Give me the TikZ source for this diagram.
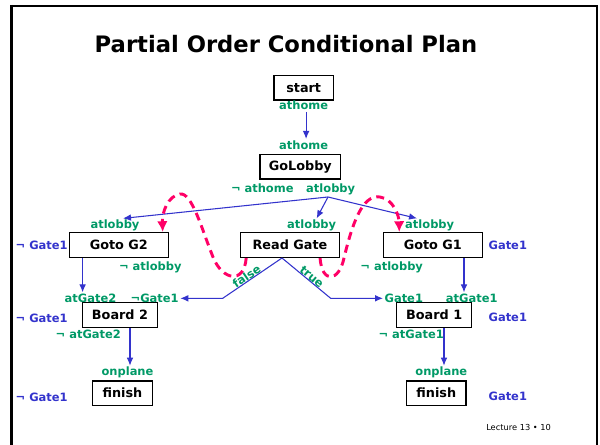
\documentclass[tikz,border=0pt]{standalone}
\usepackage{fontspec}
\setmainfont{DejaVu Sans}
\usetikzlibrary{arrows.meta,positioning}
\definecolor{condgreen}{RGB}{0,153,102}
\definecolor{gateblue}{RGB}{51,51,204}
\definecolor{threadpink}{RGB}{255,0,102}
\tikzset
{
    actbox/.style = {rectangle, draw=black, line width=1.1pt, inner sep=0pt, minimum height=18.5pt, font=\fontsize{9.6}{11}\selectfont\bfseries},
    cond/.style   = {text=condgreen, inner sep=1pt, font=\fontsize{8.6}{10}\selectfont\bfseries},
    gate/.style   = {text=gateblue, inner sep=1pt, font=\fontsize{8.6}{10}\selectfont\bfseries},
    link/.style   = {draw=gateblue, line width=0.8pt, -{Latex[length=6pt,width=5pt]}},
    thread/.style = {draw=threadpink, line width=2.2pt, dash pattern=on 6pt off 4pt, -{Latex[length=8pt,width=8pt]}}
}
\begin{document}
\begin{tikzpicture}[x=0.75pt, y=-0.75pt]
  \useasboundingbox (0,0) rectangle (600,445);

  % frame
  \draw[line width=1.5pt] (10,6) -- (598,6);
  \draw[line width=2.5pt] (11.7,5) -- (11.7,445);
  \draw[line width=1pt] (597,6) -- (597,445);

  \node (title) [anchor=base, font=\fontsize{17}{20}\selectfont\bfseries] at (286,52.3) {Partial Order Conditional Plan};

  % steps
  \node (start)    [actbox, minimum width=44.5pt]  at (303.7,87.8)  {start};
  \node (golobby)  [actbox, minimum width=60.5pt]  at (300.3,166.7) {GoLobby};
  \node (gotog2)   [actbox, minimum width=74.2pt]  at (118.8,245)   {Goto G2};
  \node (readgate) [actbox, minimum width=74pt]    at (290,245)     {Read Gate};
  \node (gotog1)   [actbox, minimum width=74.2pt]  at (432.8,245)   {Goto G1};
  \node (board2)   [actbox, minimum width=56.5pt]  at (120,315)     {Board 2};
  \node (board1)   [actbox, minimum width=56.3pt]  at (434.2,315)   {Board 1};
  \node (finish2)  [actbox, minimum width=44.7pt]  at (122.5,393.2) {finish};
  \node (finish1)  [actbox, minimum width=44.5pt]  at (436.3,393.2) {finish};

  % conditions
  \node (homeout)  [cond, anchor=base] at (303.7,110)   {athome};
  \node (homein)   [cond, anchor=base] at (303.7,149.3) {athome};
  \node (nothome)  [cond, anchor=base] at (262.3,192.7) {¬ athome};
  \node (lobbyout) [cond, anchor=base] at (330.7,193)   {atlobby};
  \node (g2in)     [cond, anchor=base] at (115,228.7)   {atlobby};
  \node (rgin)     [cond, anchor=base] at (311.7,228.7) {atlobby};
  \node (g1in)     [cond, anchor=base] at (429.7,228.7) {atlobby};
  \node (g2out)    [cond, anchor=base] at (150.3,270.4) {¬ atlobby};
  \node (g1out)    [cond, anchor=base] at (391.7,270.4) {¬ atlobby};
  \node (b2gate)   [cond, anchor=base] at (90.5,302.5)  {atGate2};
  \node (b2read)   [cond, anchor=base] at (154.7,302.5) {¬Gate1};
  \node (b1read)   [cond, anchor=base] at (403.8,302.5) {Gate1};
  \node (b1gate)   [cond, anchor=base] at (471.7,302.5) {atGate1};
  \node (b2out)    [cond, anchor=base] at (88.3,339)    {¬ atGate2};
  \node (b1out)    [cond, anchor=base] at (411.2,339)   {¬ atGate1};
  \node (f2in)     [cond, anchor=base] at (127.5,376)   {onplane};
  \node (f1in)     [cond, anchor=base] at (441.3,376)   {onplane};

  % world state
  \node (w2a) [gate, anchor=base]      at (41.7,249.3) {¬ Gate1};
  \node (w2b) [gate, anchor=base]      at (41.7,323)   {¬ Gate1};
  \node (w2c) [gate, anchor=base]      at (41.7,402)   {¬ Gate1};
  \node (w1a) [gate, anchor=base west] at (487,249.3)  {Gate1};
  \node (w1b) [gate, anchor=base west] at (487,322)    {Gate1};
  \node (w1c) [gate, anchor=base west] at (487,400)    {Gate1};

  \node (pageno) [anchor=base west, inner sep=0pt, font=\fontsize{6.2}{7}\selectfont] at (486,430.7) {Lecture 13 • 10};

  \coordinate (split) at (328,197);
  \coordinate (fork)  at (282,258);
  \coordinate (kinkf) at (222.7,0);
  \coordinate (kinkt) at (330.7,0);

  \draw[link] ([xshift=1.8pt]homeout.south) -- ([xshift=1.8pt]homein.north);
  \draw[link] (split) -- ([xshift=6pt]g2in.north);
  \draw[link] (split) -- ([xshift=3.7pt]rgin.north);
  \draw[link] (split) -- ([xshift=-9.5pt]g1in.north);
  \draw[link] ([xshift=10.5pt]gotog2.south west) -- ([xshift=10.5pt]gotog2.south west |- b2gate.north);
  \draw[link] ([xshift=-14.25pt]gotog1.south east) -- ([xshift=-14.25pt]gotog1.south east |- b1gate.north);
  \draw[link] ([xshift=7.5pt]board2.south) -- ([xshift=7.5pt]board2.south |- f2in.north);
  \draw[link] ([xshift=7.35pt]board1.south) -- ([xshift=7.35pt]board1.south |- f1in.north);
  \draw[link] (fork) -- node[cond, sloped, above=-1pt, pos=0.55] {false} (b2read.east -| kinkf) -- (b2read.east);
  \draw[link] (fork) -- node[cond, sloped, above=-1pt, pos=0.55] {true} (b1read.west -| kinkt) -- (b1read.west);

  % threats
  \draw[thread] ([xshift=4.7pt]readgate.south west) .. controls (244,285) and (222,280) .. (213,257)
     .. controls (202,230) and (192,192) .. (180,194) .. controls (168,196) and (162,212) .. ([xshift=-4.7pt]gotog2.north east);
  \draw[thread] ([xshift=-15pt]readgate.south east) .. controls (322,284) and (339,282) .. (344,258)
     .. controls (352,225) and (362,194) .. (380,197) .. controls (393,199) and (399,215) .. ([xshift=12.5pt]gotog1.north west);
\end{tikzpicture}
\end{document}
